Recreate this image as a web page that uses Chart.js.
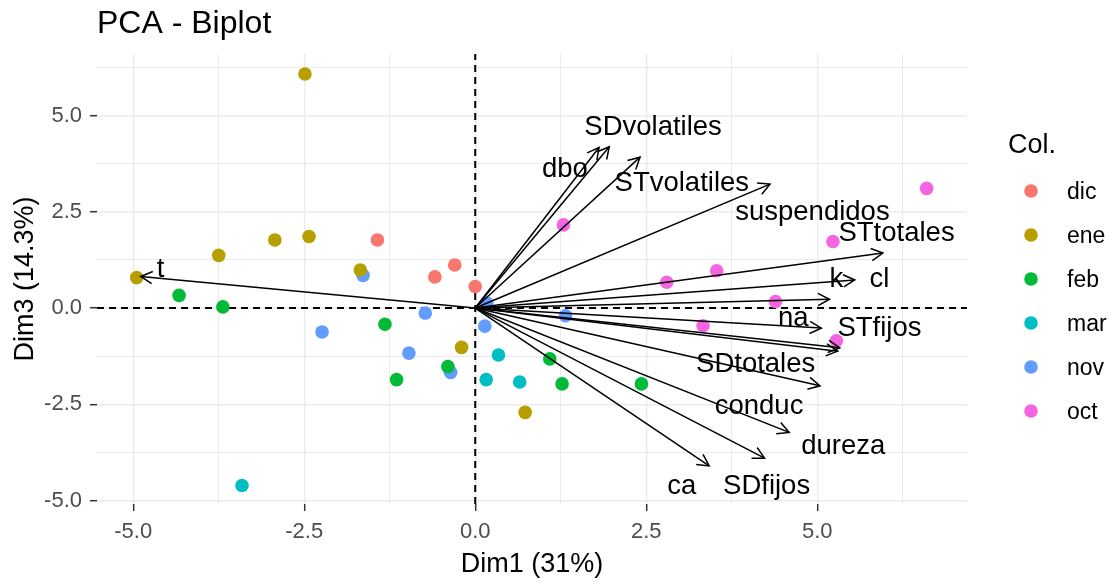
<!DOCTYPE html>
<html>
<head>
<meta charset="utf-8">
<title>PCA - Biplot</title>
<script src="https://cdn.jsdelivr.net/npm/chart.js@4"></script>
<style>
  html, body { margin: 0; padding: 0; background: #fff; }
</style>
</head>
<body>
<canvas id="biplot" width="1116" height="584"></canvas>
<script>
// ===== Data =====
const months = ["dic", "ene", "feb", "mar", "nov", "oct"];
const monthColors = ["#F8766D", "#B79F00", "#00BA38", "#00BFC4", "#619CFF", "#F564E3"];

// individuals: Dim1 / Dim3 coordinates per month
const dicX = [-1.43, -0.30, -0.59, 0.00];
const dicY = [1.77, 1.12, 0.81, 0.56];
const eneX = [-2.49, -2.93, -2.43, -3.75, -4.95, -1.68, -0.20, 0.73];
const eneY = [6.08, 1.77, 1.86, 1.37, 0.79, 0.99, -1.02, -2.71];
const febX = [-4.33, -3.69, -1.32, -0.40, -1.15, 1.09, 1.27, 2.43];
const febY = [0.33, 0.03, -0.42, -1.52, -1.86, -1.32, -1.97, -1.97];
const marX = [-3.41, 0.34, 0.16, 0.65];
const marY = [-4.61, -1.22, -1.86, -1.92];
const novX = [-1.64, -2.24, -0.73, -0.97, -0.36, 0.14, 0.17, 1.32];
const novY = [0.85, -0.62, -0.13, -1.17, -1.67, -0.47, 0.13, -0.20];
const octX = [1.29, 2.80, 3.53, 5.23, 6.60, 4.39, 3.33, 5.28];
const octY = [2.16, 0.67, 0.97, 1.73, 3.11, 0.17, -0.46, -0.85];

const monthX = [dicX, eneX, febX, marX, novX, octX];
const monthY = [dicY, eneY, febY, marY, novY, octY];
const monthOrder = [30, 30, 30, 30, 35, 30];

// variables: arrow tips and label spots
const varNames = ["t", "dbo", "SDvolatiles", "STvolatiles", "suspendidos", "STtotales", "cl", "k",
                  "na", "STfijos", "SDtotales", "conduc", "dureza", "SDfijos", "ca"];
const varX = [-4.89, 1.81, 1.96, 2.41, 4.31, 5.96, 5.55, 5.18, 5.06, 5.33, 5.30, 5.04, 4.59, 4.23, 3.42];
const varY = [0.82, 4.17, 4.19, 3.92, 3.22, 1.43, 0.73, 0.23, -0.52, -1.03, -1.12, -2.02, -3.23, -3.90, -4.10];
const labelX = [-4.60, 1.31, 2.60, 3.02, 4.93, 6.16, 5.91, 5.28, 4.65, 5.91, 4.10, 4.15, 5.38, 4.26, 3.02];
const labelY = [1.00, 3.59, 4.68, 3.23, 2.48, 1.93, 0.74, 0.74, -0.26, -0.52, -1.47, -2.56, -3.59, -4.63, -4.63];

// axes
const xRange = [-5.53, 7.19];
const yRange = [-5.09, 6.60];
const xMajor = [-5, -2.5, 0, 2.5, 5];
const yMajor = [-5, -2.5, 0, 2.5, 5];

const FONT = "'Liberation Sans', Arial, sans-serif";

// ===== Datasets =====
const datasets = [];

// dashed reference lines
datasets.push({
  type: "line",
  data: [{ x: xRange[0], y: 0 }, { x: xRange[1], y: 0 }],
  borderColor: "#000", borderWidth: 2, borderDash: [7, 5],
  pointRadius: 0, order: 40
});
datasets.push({
  type: "line",
  data: [{ x: 0, y: yRange[0] }, { x: 0, y: yRange[1] }],
  borderColor: "#000", borderWidth: 2, borderDash: [7, 5],
  pointRadius: 0, order: 40
});

// individuals
months.forEach((m, i) => {
  datasets.push({
    label: m,
    data: monthX[i].map((x, j) => ({ x, y: monthY[i][j] })),
    backgroundColor: monthColors[i],
    borderWidth: 0,
    pointRadius: 6.8,
    order: monthOrder[i]
  });
});

// variable arrows
varNames.forEach((name, i) => {
  datasets.push({
    type: "line",
    label: name,
    data: [{ x: 0, y: 0 }, { x: varX[i], y: varY[i] }],
    borderColor: "#000", borderWidth: 1.5,
    pointRadius: 0, order: 10
  });
});

// ===== Extras: arrowheads, labels, legend =====
const biplotExtras = {
  id: "biplotExtras",
  afterDatasetsDraw(chart) {
    const { ctx, scales: { x, y } } = chart;
    const ox = x.getPixelForValue(0), oy = y.getPixelForValue(0);
    const len = 13, ang = 28 * Math.PI / 180;
    ctx.save();
    ctx.strokeStyle = "#000";
    ctx.lineWidth = 1.5;
    varNames.forEach((name, i) => {
      const tx = x.getPixelForValue(varX[i]), ty = y.getPixelForValue(varY[i]);
      const a = Math.atan2(ty - oy, tx - ox);
      ctx.beginPath();
      ctx.moveTo(tx + len * Math.cos(a + Math.PI - ang), ty + len * Math.sin(a + Math.PI - ang));
      ctx.lineTo(tx, ty);
      ctx.lineTo(tx + len * Math.cos(a + Math.PI + ang), ty + len * Math.sin(a + Math.PI + ang));
      ctx.stroke();
    });
    ctx.fillStyle = "#000";
    ctx.font = "27.5px " + FONT;
    ctx.textAlign = "center";
    ctx.textBaseline = "middle";
    varNames.forEach((name, i) => {
      ctx.fillText(name, x.getPixelForValue(labelX[i]), y.getPixelForValue(labelY[i]));
    });
    ctx.restore();
  },
  afterDraw(chart) {
    const { ctx, chartArea } = chart;
    const left = chartArea.right + 41;
    ctx.save();
    ctx.fillStyle = "#000";
    ctx.textAlign = "left";
    ctx.textBaseline = "middle";
    ctx.font = "27px " + FONT;
    ctx.fillText("Col.", left, 146);
    ctx.font = "23px " + FONT;
    months.forEach((m, i) => {
      const cy = 191 + i * 44;
      ctx.beginPath();
      ctx.arc(left + 23, cy, 6.8, 0, Math.PI * 2);
      ctx.fillStyle = monthColors[i];
      ctx.fill();
      ctx.fillStyle = "#000";
      ctx.fillText(m, left + 59, cy + 2);
    });
    ctx.restore();
  }
};

// ===== Axes =====
function axis(range, major, title, fit, titlePad) {
  return {
    type: "linear",
    min: range[0],
    max: range[1],
    border: { display: false },
    grid: {
      color: "#EBEBEB",
      lineWidth: c => major.includes(c.tick.value) ? 1.4 : 1,
      drawTicks: true,
      tickLength: 7,
      tickColor: c => major.includes(c.tick.value) ? "#333" : "rgba(0,0,0,0)",
      tickWidth: 1.5
    },
    ticks: {
      stepSize: 1.25,
      includeBounds: false,
      autoSkip: false,
      maxRotation: 0,
      padding: 8,
      color: "#4D4D4D",
      font: { family: FONT, size: 22 },
      callback: v => major.includes(v) ? v.toFixed(1) : ""
    },
    title: {
      display: true,
      text: title,
      color: "#000",
      font: { family: FONT, size: 27 },
      padding: titlePad
    },
    afterFit: fit
  };
}

new Chart(document.getElementById("biplot"), {
  type: "scatter",
  data: { datasets },
  options: {
    responsive: false,
    animation: false,
    devicePixelRatio: 1,
    layout: { padding: { right: 149 } },
    plugins: {
      legend: { display: false },
      tooltip: { enabled: false },
      title: {
        display: true,
        text: "PCA - Biplot",
        align: "start",
        fullSize: false,
        color: "#000",
        font: { family: FONT, size: 32, weight: "normal" },
        padding: { top: 5, bottom: 10.6 }
      }
    },
    scales: {
      x: axis(xRange, xMajor, "Dim1 (31%)", s => { s.height = 80; }, { top: 0, bottom: 3 }),
      y: axis(yRange, yMajor, "Dim3 (14.3%)", s => { s.width = 97; }, { top: 9, bottom: 0 })
    }
  },
  plugins: [biplotExtras]
});
</script>
</body>
</html>
